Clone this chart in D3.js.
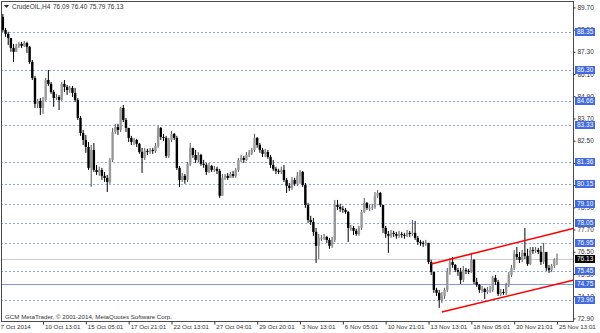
<!DOCTYPE html>
<html>
<head>
<meta charset="utf-8">
<script src="https://cdn.jsdelivr.net/npm/d3@7"></script>
<style>
  body { margin: 0; background: #fff; }
  text { font-family: "Liberation Sans", Arial, sans-serif; }
</style>
</head>
<body>
<svg id="chart" width="600" height="333"></svg>
<script>
// CrudeOIL H4 bars, 7 Oct - 25 Nov 2014 (open of each bar = previous close)
const firstOpen = 89.19;
const closes = [
  88.48, 88.27, 88.05, 87.51, 87.30, 87.62, 87.73, 87.62, 87.78, 87.57,
  86.76, 85.89, 84.49, 84.65, 84.27, 84.70, 85.78, 85.57, 85.13, 84.81,
  84.86, 84.70, 85.57, 85.41, 85.24, 85.35, 85.08, 84.70, 83.73, 82.92,
  82.54, 82.16, 81.03, 82.00, 80.92, 80.81, 80.92, 80.60, 80.49, 80.27,
  81.46, 82.97, 83.24, 83.08, 84.27, 83.62, 83.19, 82.65, 82.43, 82.54,
  82.33, 81.89, 81.57, 81.95, 81.89, 82.00, 81.95, 82.22, 83.19, 82.70,
  82.65, 81.68, 82.54, 82.87, 82.65, 81.03, 80.38, 80.60, 80.38, 81.25,
  82.11, 81.73, 81.46, 81.73, 81.25, 81.19, 80.81, 81.14, 80.92, 80.98,
  80.87, 79.52, 80.49, 80.60, 80.49, 80.70, 80.60, 80.92, 81.46, 81.57,
  81.46, 81.73, 81.84, 82.00, 82.65, 82.27, 82.00, 81.79, 81.89, 81.62,
  81.19, 80.98, 80.87, 80.81, 80.92, 80.38, 80.06, 79.95, 80.38, 80.17,
  80.60, 80.81, 80.11, 79.03, 78.22, 78.11, 77.57, 76.82, 77.25, 77.25,
  77.30, 77.14, 76.82, 77.14, 79.03, 78.92, 78.82, 78.76, 78.65, 77.79,
  77.79, 77.63, 77.46, 77.79, 78.65, 79.14, 78.87, 78.87, 78.92, 79.52,
  79.68, 79.03, 77.79, 77.46, 77.36, 77.52, 77.46, 77.36, 77.46, 77.41,
  77.36, 77.52, 77.46, 77.52, 77.25, 77.03, 76.98, 76.92, 76.98, 75.95,
  75.41, 74.44, 74.28, 73.90, 74.11, 74.44, 75.41, 75.95, 75.79, 75.52,
  75.41, 74.98, 75.52, 75.47, 75.41, 76.06, 74.87, 74.71, 74.44, 74.49,
  74.33, 74.44, 74.44, 75.09, 74.87, 74.22, 74.33, 74.28, 74.71, 75.25,
  75.63, 76.38, 76.22, 76.06, 76.44, 76.28, 75.84, 76.60, 76.55, 76.60,
  76.49, 75.95, 76.49, 75.63, 75.52, 75.74, 76.09, 76.13
];
const highs = [
  89.35, 88.59, 88.38, 88.05, 87.73, 87.73, 87.84, 87.84, 87.89, 87.84,
  87.62, 86.86, 86.00, 84.76, 84.81, 84.86, 85.89, 86.32, 85.67, 85.24,
  85.03, 84.97, 85.67, 85.78, 85.51, 85.46, 85.46, 85.35, 84.81, 83.84,
  83.08, 82.81, 82.43, 82.27, 82.38, 81.19, 81.09, 81.03, 80.81, 80.65,
  81.57, 83.19, 83.41, 83.41, 84.33, 84.43, 83.73, 83.19, 82.76, 82.65,
  82.60, 82.38, 82.11, 82.11, 82.06, 82.11, 82.11, 82.38, 83.30, 83.24,
  82.87, 82.76, 82.65, 83.03, 82.92, 82.76, 81.14, 80.76, 80.70, 81.35,
  82.38, 82.00, 82.00, 81.89, 81.79, 81.46, 81.30, 81.30, 81.19, 81.14,
  81.09, 80.98, 80.70, 80.70, 80.76, 80.81, 80.87, 81.03, 81.57, 81.73,
  81.68, 81.89, 82.00, 82.11, 82.87, 82.70, 82.38, 82.11, 82.06, 82.00,
  81.73, 81.46, 81.09, 80.98, 81.09, 81.19, 80.49, 80.22, 80.54, 80.49,
  80.81, 80.92, 80.87, 80.22, 79.14, 78.44, 78.33, 77.79, 77.46, 77.41,
  77.46, 77.36, 77.25, 77.30, 79.30, 79.30, 79.09, 78.98, 78.87, 78.71,
  77.95, 77.90, 77.74, 77.90, 78.76, 79.41, 79.19, 79.03, 79.09, 79.73,
  79.84, 79.73, 78.87, 77.90, 77.63, 77.68, 77.63, 77.57, 77.63, 77.57,
  77.52, 77.68, 77.63, 78.22, 78.17, 77.36, 77.14, 77.09, 77.14, 76.98,
  76.06, 75.41, 74.55, 74.44, 74.33, 74.55, 75.63, 76.17, 76.22, 75.84,
  75.63, 75.63, 75.74, 75.63, 75.58, 76.44, 76.11, 75.09, 74.76, 74.66,
  74.55, 74.60, 74.66, 75.20, 75.25, 74.98, 74.49, 74.49, 74.82, 75.41,
  75.79, 76.60, 76.76, 76.49, 76.60, 77.79, 76.66, 76.76, 76.76, 76.76,
  76.71, 76.82, 76.98, 76.49, 75.79, 75.84, 76.15, 76.40
];
const lows = [
  88.38, 88.11, 87.67, 87.30, 86.76, 87.30, 87.51, 87.51, 87.57, 87.24,
  86.65, 85.78, 84.27, 84.27, 83.89, 83.95, 84.65, 85.46, 85.03, 84.33,
  84.70, 84.16, 84.65, 85.13, 84.97, 85.08, 84.86, 84.59, 83.62, 82.76,
  82.27, 81.84, 80.92, 80.00, 80.81, 80.65, 80.60, 80.38, 80.27, 79.73,
  80.17, 81.35, 82.87, 82.81, 82.97, 83.51, 82.97, 82.43, 82.27, 82.27,
  82.16, 81.79, 80.76, 81.46, 81.73, 81.79, 81.79, 81.84, 82.11, 82.54,
  82.49, 81.57, 81.57, 82.43, 82.54, 80.92, 80.00, 80.27, 80.17, 80.27,
  81.14, 81.57, 81.30, 81.35, 81.14, 81.03, 80.65, 80.76, 80.81, 80.81,
  80.70, 79.41, 79.52, 80.38, 80.38, 80.49, 80.49, 80.49, 80.81, 81.35,
  81.30, 81.41, 81.62, 81.73, 81.89, 82.11, 81.84, 81.62, 81.62, 81.52,
  81.03, 80.87, 80.70, 80.70, 80.70, 80.27, 79.68, 79.79, 79.84, 80.06,
  80.06, 80.17, 80.00, 78.87, 78.06, 77.95, 77.36, 75.90, 76.11, 77.09,
  77.14, 76.98, 76.66, 76.71, 77.03, 78.76, 78.65, 78.60, 78.55, 77.03,
  77.63, 77.41, 77.36, 77.36, 77.68, 78.60, 78.76, 78.71, 78.76, 78.82,
  79.41, 78.92, 77.52, 77.25, 76.44, 77.25, 77.30, 77.20, 77.25, 77.25,
  77.20, 77.30, 77.30, 77.36, 77.14, 76.87, 76.82, 76.76, 76.82, 75.84,
  75.25, 74.28, 74.11, 73.47, 73.74, 73.95, 74.33, 75.25, 75.63, 75.41,
  75.20, 74.76, 74.87, 75.30, 75.30, 75.36, 74.76, 74.60, 74.28, 74.28,
  73.95, 74.22, 74.28, 74.33, 74.71, 74.11, 74.11, 74.17, 74.17, 74.60,
  75.14, 75.52, 76.06, 75.90, 75.95, 76.11, 75.74, 75.79, 76.38, 76.44,
  76.38, 75.79, 75.84, 75.47, 75.36, 75.41, 75.63, 75.79
];

const timeLabels = ["7 Oct 2014", "10 Oct 13:01", "15 Oct 05:01", "17 Oct 21:01", "22 Oct 13:01",
  "27 Oct 04:01", "29 Oct 20:01", "3 Nov 13:01", "6 Nov 05:01", "10 Nov 21:01",
  "13 Nov 13:01", "18 Nov 05:01", "20 Nov 21:01", "25 Nov 13:01"];
const timeLabelBars = [0, 15, 31, 47, 63, 79, 95, 111, 127, 143, 159, 175, 191, 207];

const priceTicks = [89.70, 88.50, 87.30, 86.10, 84.90, 83.70, 82.50, 81.30, 80.10,
  78.90, 77.70, 76.50, 75.30, 74.10, 72.90];
const levels = [88.35, 86.30, 84.66, 83.33, 81.36, 80.15, 79.10, 78.05, 76.95, 75.45, 73.90];
const solidLevel = 74.75;
const lastPrice = 76.13;
const header = ["CrudeOIL,H4", "76.09 76.40 75.79 76.13"];

// channel lines: [bar, price]
const channelUpper = [[160, 75.84], [213, 77.76]];
const channelLower = [[164, 73.25], [213, 74.96]];

const bars = closes.map((c, i) => ({
  i, o: i === 0 ? firstOpen : closes[i - 1], h: highs[i], l: lows[i], c
}));

const plotLeft = 1, plotTop = 1, plotRight = 573, plotBottom = 321;

const svg = d3.select("#chart");

const x = d3.scaleLinear().domain([0, 207]).range([2.85, 557]);
const y = d3.scaleLinear().domain([72.90, 89.70]).range([318.4, 7.4]);

const plot = svg.append("g");

// reference levels
plot.selectAll("line.level")
  .data(levels)
  .enter().append("line")
  .attr("class", "level")
  .attr("x1", plotLeft).attr("x2", plotRight)
  .attr("y1", d => Math.round(y(d)) + 0.5)
  .attr("y2", d => Math.round(y(d)) + 0.5)
  .attr("stroke", "#86a2ea")
  .attr("stroke-dasharray", "2,2");

plot.append("line")
  .attr("x1", plotLeft).attr("x2", plotRight)
  .attr("y1", Math.round(y(solidLevel)) + 0.5)
  .attr("y2", Math.round(y(solidLevel)) + 0.5)
  .attr("stroke", "#7d9ae8");

plot.append("line")
  .attr("x1", plotLeft).attr("x2", plotRight)
  .attr("y1", Math.round(y(lastPrice)) + 0.5)
  .attr("y2", Math.round(y(lastPrice)) + 0.5)
  .attr("stroke", "#cccccc");

// candles
const candle = plot.append("g")
  .selectAll("g")
  .data(bars)
  .enter().append("g");

candle.append("line")
  .attr("x1", d => x(d.i)).attr("x2", d => x(d.i))
  .attr("y1", d => y(Math.max(d.h, d.o, d.c)))
  .attr("y2", d => y(Math.min(d.l, d.o, d.c)))
  .attr("stroke", d => d.c >= d.o ? "#555" : "#000")
  .attr("stroke-width", 1);

candle.append("rect")
  .attr("x", d => x(d.i) - 1.2)
  .attr("width", 2.4)
  .attr("y", d => y(Math.max(d.o, d.c)))
  .attr("height", d => Math.max(1, Math.abs(y(d.o) - y(d.c))))
  .attr("fill", d => d.c >= d.o ? "#999" : "#000");

// channel
const channelLine = d3.line().x(d => x(d[0])).y(d => y(d[1]));
plot.selectAll("path.channel")
  .data([channelUpper, channelLower])
  .enter().append("path")
  .attr("class", "channel")
  .attr("d", channelLine)
  .attr("fill", "none")
  .attr("stroke", "#ff0000")
  .attr("stroke-width", 1.6);

// frame
svg.append("rect")
  .attr("x", plotLeft + 0.5).attr("y", plotTop + 0.5)
  .attr("width", plotRight - plotLeft).attr("height", plotBottom - plotTop)
  .attr("fill", "none")
  .attr("stroke", "#4a4a4a");

// price axis
const yAxis = svg.append("g")
  .attr("transform", `translate(${plotRight + 0.5},0)`)
  .call(d3.axisRight(y).tickValues(priceTicks).tickSize(2).tickPadding(2).tickFormat(d3.format(".2f")));
yAxis.select(".domain").remove();
yAxis.selectAll("line").attr("stroke", "#333");
yAxis.selectAll("text")
  .attr("font-size", 6.5)
  .attr("font-family", "Liberation Sans, Arial, sans-serif")
  .attr("fill", "#333");

// level labels
const tags = svg.append("g")
  .selectAll("g")
  .data(levels.concat([solidLevel]).map(v => ({v, bg: "#4169e1"})).concat([{v: lastPrice, bg: "#000"}]))
  .enter().append("g")
  .attr("transform", d => `translate(${plotRight + 2},${Math.round(y(d.v))})`);
tags.append("rect")
  .attr("x", 0).attr("y", -4)
  .attr("width", 20).attr("height", 8)
  .attr("fill", d => d.bg);
tags.append("text")
  .attr("x", 2).attr("y", 2.4)
  .attr("font-size", 6.5)
  .attr("fill", "#fff")
  .text(d => d3.format(".2f")(d.v));

// time axis
const xAxis = svg.append("g")
  .attr("transform", `translate(0,${plotBottom + 0.5})`)
  .call(d3.axisBottom(x).tickValues(timeLabelBars).tickSize(3)
    .tickFormat((d, i) => timeLabels[i]));
xAxis.select(".domain").remove();
xAxis.selectAll("line").attr("stroke", "#333");
xAxis.selectAll(".tick").filter(d => d === 0).select("line").remove();
xAxis.selectAll("text")
  .attr("text-anchor", "start")
  .attr("x", d => d === 0 ? -x(0) : 1.5)
  .attr("y", 3)
  .attr("dy", "0.71em")
  .attr("font-size", 6.2)
  .attr("font-family", "Liberation Sans, Arial, sans-serif")
  .attr("fill", "#333");

// header
svg.append("path")
  .attr("d", "M4,5 L9,5 L6.5,8 Z")
  .attr("fill", "#222");
svg.append("text")
  .attr("x", 12).attr("y", 9)
  .attr("font-size", 6.5)
  .attr("fill", "#333")
  .text(header[0]);
svg.append("text")
  .attr("x", 53).attr("y", 9)
  .attr("font-size", 6.5)
  .attr("fill", "#333")
  .text(header[1]);

svg.append("text")
  .attr("x", 5).attr("y", 318.5)
  .attr("font-size", 6.2)
  .attr("fill", "#333")
  .text("GCM MetaTrader, © 2001-2014, MetaQuotes Software Corp.");
</script>
</body>
</html>
